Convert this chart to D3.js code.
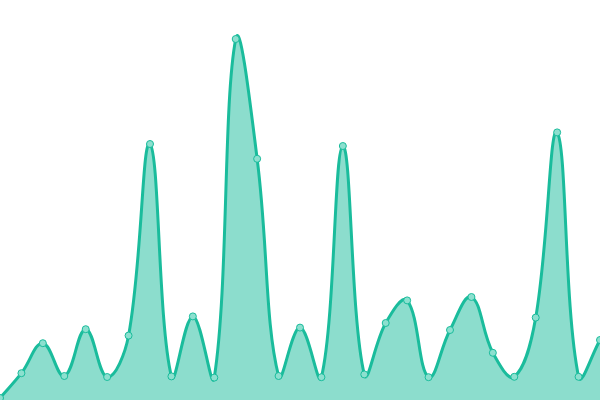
<!DOCTYPE html>
<html>
<head>
<meta charset="utf-8">
<script src="https://cdn.jsdelivr.net/npm/d3@7"></script>
<style>
  html, body { margin: 0; padding: 0; background: #ffffff; }
  svg { display: block; }
</style>
</head>
<body>
<svg id="chart" width="600" height="400"></svg>
<script>
const categories = d3.range(29).map(i => "P" + (i + 1));
const values = [0.5, 6.7, 14.2, 6, 17.7, 5.75, 16.1, 64, 5.9, 20.9, 5.6, 90.25, 60.3, 6, 18.1, 5.7,
                63.5, 6.4, 19.25, 24.9, 5.7, 17.5, 25.75, 11.8, 5.8, 20.6, 66.9, 5.8, 15];

const W = 600, H = 400;
const svg = d3.select("#chart");

const x = d3.scalePoint().domain(categories).range([0, W]);
const y = d3.scaleLinear().domain([0, 100]).range([H, 0]);

// Chart.js-like spline (tension 0.4) as a d3 curve
function ChartSpline(context) { this._context = context; }
ChartSpline.prototype = {
  areaStart() { this._line = 0; },
  areaEnd() { this._line = NaN; },
  lineStart() { this._pts = []; },
  point(px, py) { this._pts.push([+px, +py]); },
  lineEnd() {
    const p = this._pts, c = this._context, n = p.length, t = 0.4;
    if (n) {
      if (this._line) c.lineTo(p[0][0], p[0][1]); else c.moveTo(p[0][0], p[0][1]);
      if (n > 1) {
        const cpPrev = [], cpNext = [];
        for (let i = 0; i < n; i++) {
          const prev = p[i - 1] || p[i], cur = p[i], next = p[i + 1] || p[i];
          const d01 = Math.hypot(cur[0] - prev[0], cur[1] - prev[1]);
          const d12 = Math.hypot(next[0] - cur[0], next[1] - cur[1]);
          let s01 = d01 / (d01 + d12), s12 = d12 / (d01 + d12);
          if (isNaN(s01)) s01 = 0; if (isNaN(s12)) s12 = 0;
          const fa = t * s01, fb = t * s12;
          const dx = next[0] - prev[0], dy = next[1] - prev[1];
          const clampX = v => Math.max(0, Math.min(W, v));
          const clampY = v => Math.max(0, Math.min(H, v));
          cpPrev.push([clampX(cur[0] - fa * dx), clampY(cur[1] - fa * dy)]);
          cpNext.push([clampX(cur[0] + fb * dx), clampY(cur[1] + fb * dy)]);
        }
        for (let i = 0; i < n - 1; i++) {
          c.bezierCurveTo(cpNext[i][0], cpNext[i][1], cpPrev[i + 1][0], cpPrev[i + 1][1], p[i + 1][0], p[i + 1][1]);
        }
      }
    }
    if (this._line || (this._line !== 0 && n === 1)) c.closePath();
    this._line = 1 - this._line;
  }
};
const curveChart = ctx => new ChartSpline(ctx);

const data = categories.map((c, i) => ({ c, v: values[i] }));

const area = d3.area()
  .x(d => x(d.c))
  .y0(H)
  .y1(d => y(d.v))
  .curve(d3.curveLinear);

// top edge with spline, baseline straight: build area path from line path
const line = d3.line()
  .x(d => x(d.c))
  .y(d => y(d.v))
  .curve(curveChart);

const linePath = line(data);
svg.append("path")
  .attr("d", linePath + `L${x(categories[categories.length - 1])},${H}L${x(categories[0])},${H}Z`)
  .attr("fill", "rgba(26,188,156,0.5)")
  .attr("stroke", "none");

svg.append("path")
  .attr("d", linePath)
  .attr("fill", "none")
  .attr("stroke", "#1abc9c")
  .attr("stroke-width", 3)
  .attr("stroke-linejoin", "round");

svg.selectAll("circle.pt")
  .data(data)
  .join("circle")
  .attr("class", "pt")
  .attr("cx", d => x(d.c))
  .attr("cy", d => y(d.v))
  .attr("r", 3.5)
  .attr("fill", "#8ce0cf")
  .attr("stroke", "#1abc9c")
  .attr("stroke-width", 1);
</script>
</body>
</html>
